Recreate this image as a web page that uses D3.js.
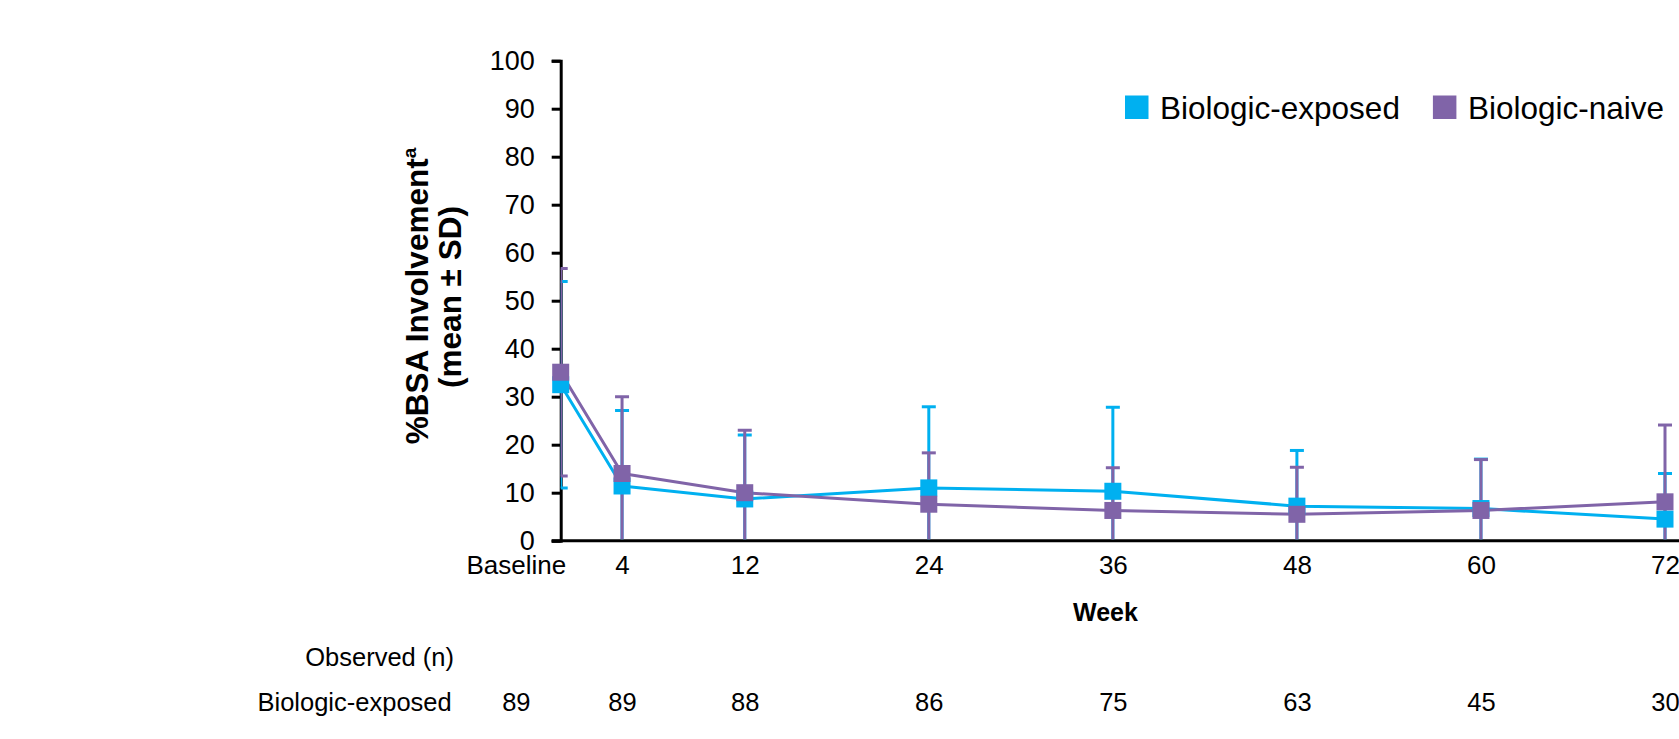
<!DOCTYPE html>
<html>
<head>
<meta charset="utf-8">
<script src="https://cdn.jsdelivr.net/npm/d3@7"></script>
<style>
  html, body { margin: 0; padding: 0; background: #fff; }
  svg { display: block; }
  text { font-family: "Liberation Sans", Arial, Helvetica, sans-serif; fill: #000; }
</style>
</head>
<body>
<svg id="chart" width="1679" height="739"></svg>
<script>
// Study visits (weeks) and their axis labels
const weeks = [0, 4, 12, 24, 36, 48, 60, 72];
const weekLabels = ["Baseline", "4", "12", "24", "36", "48", "60", "72"];

// %BSA involvement, mean and SD per visit
const exposedMean = [32.5, 11.4, 8.7, 11.0, 10.3, 7.2, 6.7, 4.5];
const exposedSD   = [21.5, 15.7, 13.3, 16.9, 17.5, 11.6, 10.3, 9.5];
const naiveMean   = [35.1, 14.0, 10.0, 7.6, 6.3, 5.5, 6.3, 8.1];
const naiveSD     = [21.6, 16.0, 13.0, 10.7, 8.9, 9.8, 10.6, 16.0];

// Observed patients per visit
const exposedN = [89, 89, 88, 86, 75, 63, 45, 30];

const yTicks = [0, 10, 20, 30, 40, 50, 60, 70, 80, 90, 100];

const seriesNames  = ["Biologic-exposed", "Biologic-naive"];
const seriesColors = ["#00B0F0", "#8064A8"];

const series = [
  { name: seriesNames[0], color: seriesColors[0], mean: exposedMean, sd: exposedSD },
  { name: seriesNames[1], color: seriesColors[1], mean: naiveMean,   sd: naiveSD }
].map(s => ({ ...s, pts: weeks.map((w, i) => ({ w, m: s.mean[i], sd: s.sd[i] })) }));

const W = 1679, H = 739;
const svg = d3.select("#chart");

const x = d3.scaleLinear().domain([0, 72]).range([560.7, 1665]);
const y = d3.scaleLinear().domain([0, 100]).range([540.7, 60.7]);

// clip region for error bars: right of the y-axis, above the x-axis
svg.append("defs").append("clipPath").attr("id", "plotClip")
  .append("rect")
  .attr("x", x(0)).attr("y", 0)
  .attr("width", W - x(0)).attr("height", y(0) - 1.5);

// ---- Y axis ----
const yAxis = d3.axisLeft(y).tickValues(yTicks).tickSize(9).tickPadding(17);
const gy = svg.append("g").attr("transform", `translate(${x(0)},0)`).call(yAxis);
gy.select(".domain").attr("stroke", "#000").attr("stroke-width", 3);
gy.selectAll(".tick line").attr("stroke", "#000").attr("stroke-width", 3);
gy.selectAll(".tick text")
  .attr("font-size", 27).attr("font-family", null)
  .attr("dy", null).attr("y", 8.6).attr("fill", "#000");

// ---- X axis ----
const xAxis = d3.axisBottom(x).tickValues(weeks)
  .tickFormat((d, i) => weekLabels[i]).tickSize(0).tickPadding(0);
const gx = svg.append("g").attr("transform", `translate(0,${y(0)})`).call(xAxis);
gx.select(".domain").remove();
gx.selectAll(".tick text")
  .attr("font-size", 26).attr("font-family", null)
  .attr("dy", null).attr("y", 33.3).attr("fill", "#000");
gx.selectAll(".tick text").filter((d, i) => i === 0)
  .attr("text-anchor", "end").attr("x", 5);

// x-axis line running to the right edge
svg.append("line")
  .attr("x1", x(0) - 9).attr("x2", W)
  .attr("y1", y(0)).attr("y2", y(0))
  .attr("stroke", "#000").attr("stroke-width", 3);

// ---- Error bars ----
const capHalf = 7;
const errLayer = svg.append("g").attr("clip-path", "url(#plotClip)");
series.forEach(s => {
  const g = errLayer.append("g").attr("stroke", s.color).attr("stroke-width", 3).attr("fill", "none");
  g.selectAll("line.v").data(s.pts).join("line").attr("class", "v")
    .attr("x1", d => x(d.w)).attr("x2", d => x(d.w))
    .attr("y1", d => y(d.m + d.sd)).attr("y2", d => y(d.m - d.sd));
  g.selectAll("line.top").data(s.pts).join("line").attr("class", "top")
    .attr("x1", d => x(d.w) - capHalf).attr("x2", d => x(d.w) + capHalf)
    .attr("y1", d => y(d.m + d.sd)).attr("y2", d => y(d.m + d.sd));
  g.selectAll("line.bot").data(s.pts).join("line").attr("class", "bot")
    .attr("x1", d => x(d.w) - capHalf).attr("x2", d => x(d.w) + capHalf)
    .attr("y1", d => y(d.m - d.sd)).attr("y2", d => y(d.m - d.sd));
});

// ---- Lines ----
const line = d3.line().x(d => x(d.w)).y(d => y(d.m));
series.forEach(s => {
  svg.append("path").datum(s.pts)
    .attr("d", line).attr("fill", "none")
    .attr("stroke", s.color).attr("stroke-width", 3)
    .attr("stroke-linejoin", "round");
});

// ---- Markers ----
const mk = 17;
series.forEach(s => {
  svg.append("g").selectAll("rect").data(s.pts).join("rect")
    .attr("x", d => x(d.w) - mk / 2).attr("y", d => y(d.m) - mk / 2)
    .attr("width", mk).attr("height", mk).attr("fill", s.color);
});

// ---- Y axis title ----
const t1 = svg.append("text")
  .attr("transform", "translate(428,296) rotate(-90)")
  .attr("text-anchor", "middle").attr("font-size", 31.5).attr("font-weight", "bold");
t1.append("tspan").text("%BSA Involvement");
t1.append("tspan").attr("font-size", 19).attr("dy", -12).text("a");
svg.append("text")
  .attr("transform", "translate(461,297) rotate(-90)")
  .attr("text-anchor", "middle").attr("font-size", 31.5).attr("font-weight", "bold")
  .text("(mean ± SD)");

// ---- X axis title ----
svg.append("text").attr("x", 1105.5).attr("y", 620.7)
  .attr("text-anchor", "middle").attr("font-size", 25).attr("font-weight", "bold")
  .text("Week");

// ---- Legend ----
let lx = 1125;
series.forEach(s => {
  svg.append("rect").attr("x", lx).attr("y", 95.5).attr("width", 23.5).attr("height", 23.5).attr("fill", s.color);
  const t = svg.append("text").attr("x", lx + 35).attr("y", 119)
    .attr("font-size", 31.5).text(s.name);
  lx = lx + 35 + t.node().getComputedTextLength() + 33;
});

// ---- Observed (n) table ----
svg.append("text").attr("x", 454).attr("y", 666)
  .attr("text-anchor", "end").attr("font-size", 25.5).text("Observed (n)");
svg.append("text").attr("x", 451.7).attr("y", 711)
  .attr("text-anchor", "end").attr("font-size", 25.5).text(seriesNames[0]);

// counts sit under the matching x-axis labels
const labelCenters = [];
gx.selectAll(".tick").each(function () {
  const tr = this.getAttribute("transform");
  const tx = +/translate\(([^,]+)/.exec(tr)[1];
  const bb = d3.select(this).select("text").node().getBBox();
  labelCenters.push(tx + bb.x + bb.width / 2);
});
svg.append("g").selectAll("text").data(exposedN).join("text")
  .attr("x", (d, i) => labelCenters[i]).attr("y", 711)
  .attr("text-anchor", "middle").attr("font-size", 25.5)
  .text(d => d);
</script>
</body>
</html>
